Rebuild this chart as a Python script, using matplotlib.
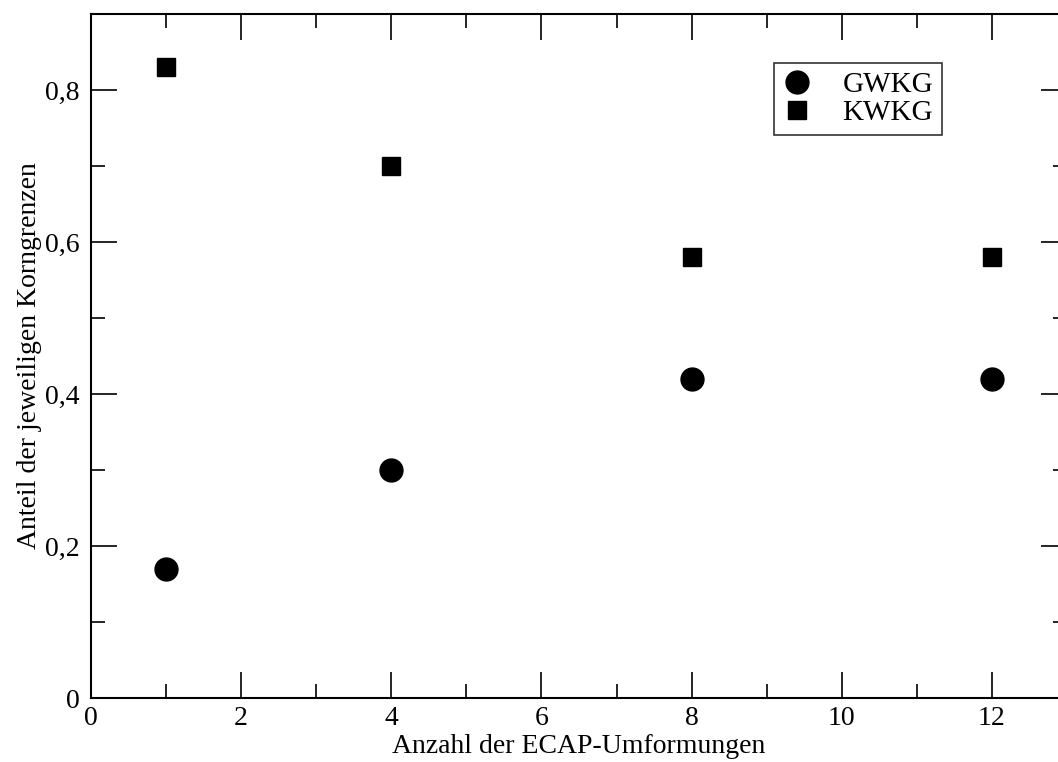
import matplotlib
matplotlib.use("Agg")
import matplotlib.pyplot as plt
from matplotlib.ticker import MultipleLocator, FuncFormatter

x_vals = [1, 4, 8, 12]
gwkg = [0.17, 0.30, 0.42, 0.42]
kwkg = [0.83, 0.70, 0.58, 0.58]

plt.rcParams['font.family'] = ['Liberation Serif', 'DejaVu Serif']

fig = plt.figure(figsize=(10.58, 7.62), dpi=100)
ax = fig.add_axes([91/1058, 64/762, (1067-91)/1058, (698-14)/762])

ax.plot(x_vals, gwkg, linestyle='none', marker='o', color='black', markersize=16.5, label='GWKG')
ax.plot(x_vals, kwkg, linestyle='none', marker='s', color='black', markersize=13, label='KWKG')

ax.set_xlim(0, 13)
ax.set_ylim(0, 0.9)
ax.xaxis.set_major_locator(MultipleLocator(2))
ax.xaxis.set_minor_locator(MultipleLocator(1))
ax.yaxis.set_major_locator(MultipleLocator(0.2))
ax.yaxis.set_minor_locator(MultipleLocator(0.1))
ax.yaxis.set_major_formatter(FuncFormatter(lambda v, p: ('0' if abs(v) < 1e-9 else f'{v:.1f}'.replace('.', ','))))

for s in ax.spines.values():
    s.set_linewidth(1.5)
ax.tick_params(which='both', direction='in', top=True, right=True, width=1.2, labelsize=20)
ax.tick_params(which='major', length=19)
ax.tick_params(which='minor', length=10)
ax.tick_params(axis='x', pad=6)
ax.tick_params(axis='y', pad=8)

ax.set_xlabel('Anzahl der ECAP-Umformungen', fontsize=20, labelpad=2)
ax.set_ylabel('Anteil der jeweiligen Korngrenzen', fontsize=20, labelpad=2)

leg = ax.legend(loc='upper left', bbox_to_anchor=((774-91)/976, 1 - (63-14)/684), borderaxespad=0,
                frameon=True, fancybox=False, edgecolor='black', fontsize=21,
                handletextpad=1.05, borderpad=0.3, labelspacing=0.05, handlelength=1.0)
leg.get_frame().set_linewidth(1.2)

fig.savefig('out.png', dpi=100)
